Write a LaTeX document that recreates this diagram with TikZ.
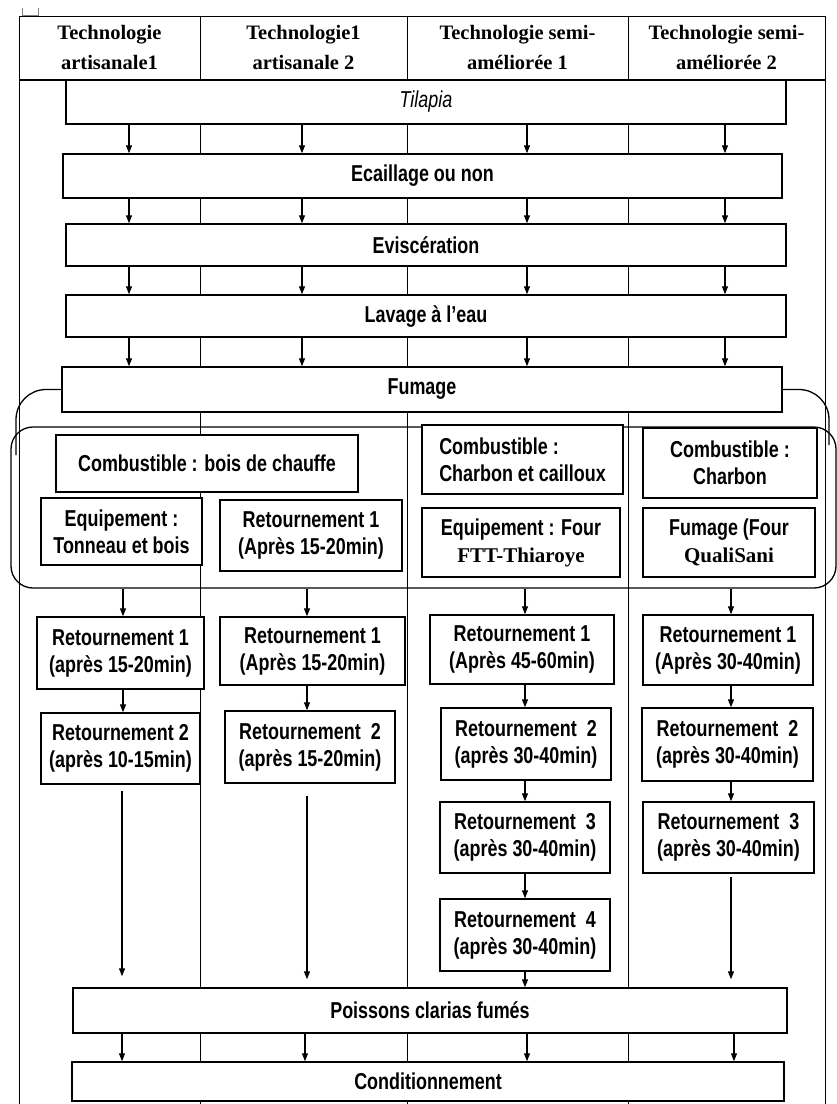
\documentclass[tikz,border=0pt]{standalone}
\usepackage{fontspec}
\setmainfont[FakeStretch=0.78]{Liberation Sans}
\newfontfamily\headfont{Liberation Serif}
\usepackage{tikz}
\usetikzlibrary{positioning,arrows.meta,calc}

\begin{document}
\begin{tikzpicture}[x=1pt,y=-1pt,
    box/.style={draw, line width=1.5pt, fill=white, inner sep=2pt, align=center,
        font=\fontsize{23}{27}\selectfont\bfseries},
    head/.style={align=center, font=\headfont\fontsize{20.5}{30}\selectfont\bfseries},
    flow/.style={line width=1.1pt, -{Triangle[length=8pt,width=6pt]}},
    rule/.style={line width=1pt},
    panel/.style={draw, line width=1.3pt, rounded corners=22pt, inner sep=0pt}]
\useasboundingbox (0,0) rectangle (837,1104);

% table frame and column lines
\draw[rule] (19,1104) -- (19,16) -- (825,16) -- (825,1104);
\draw[rule] (200,16) -- (200,1104);
\draw[rule] (407,16) -- (407,1104);
\draw[rule] (628,16) -- (628,1104);
\draw[line width=2.5pt] (19,80) -- (825,80);
\draw[gray, line width=0.6pt] (22,8) |- (38,15) -- (38,8);

% column heads
\node[head] (h1) at (109.5,47) {Technologie\\artisanale1};
\node[head] (h2) at (303.5,47) {Technologie1\\artisanale 2};
\node[head] (h3) at (517.5,47) {Technologie semi-\\améliorée 1};
\node[head] (h4) at (726.5,47) {Technologie semi-\\améliorée 2};

% common steps
\node[box, minimum width=720, minimum height=44, font=\fontsize{23}{27}\selectfont\itshape] (tilapia) at (426,102) {Tilapia};
\node[box, minimum width=719, minimum height=44] (ecaill) at (422.5,176) {Ecaillage ou non};
\node[box, minimum width=720, minimum height=42] (evisc) at (426,245) {Eviscération};
\node[box, minimum width=720, minimum height=42] (lavage) at (426,316) {Lavage à l'eau};
\node[box, minimum width=720, minimum height=45] (fumage) at (422,389.5) {Fumage};

% smoking frame
\draw[line width=1.3pt, rounded corners=30pt] (fumage.west) -| (16,455);
\draw[line width=1.3pt, rounded corners=30pt] (fumage.east) -| (829,445);
\node[panel, minimum width=825, minimum height=161] (panel) at (423.5,507.5) {};

\node[box, minimum width=302, minimum height=57] (comb1) at (207,463.5) {Combustible : bois de chauffe};
\node[box, minimum width=161, minimum height=67] (equip1) at (121.5,531.5) {Equipement :\\Tonneau et bois};
\node[box, minimum width=182, minimum height=71] (ret1in) at (311,535.5) {Retournement 1\\(Après 15-20min)};
\node[box, minimum width=201, minimum height=69, align=left] (comb3) at (522.5,459.5) {Combustible :\\Charbon et cailloux};
\node[box, minimum width=198, minimum height=69] (equip3) at (521,542.5) {Equipement : Four\\{\headfont\fontsize{21}{27}\selectfont\bfseries FTT-Thiaroye}};
\node[box, minimum width=174, minimum height=70] (comb4) at (730,463) {Combustible :\\Charbon};
\node[box, minimum width=172, minimum height=69] (fum4) at (729,542.5) {Fumage (Four\\{\headfont\fontsize{21}{27}\selectfont\bfseries QualiSani}};

% turning steps
\node[box, minimum width=167, minimum height=72] (c1r1) at (120.5,653) {Retournement 1\\(après 15-20min)};
\node[box, minimum width=159, minimum height=71] (c1r2) at (120.5,748.5) {Retournement 2\\(après 10-15min)};
\node[box, minimum width=185, minimum height=68] (c2r1) at (312.5,651) {Retournement 1\\(Après 15-20min)};
\node[box, minimum width=170, minimum height=72] (c2r2) at (310,747) {Retournement~~2\\(après 15-20min)};
\node[box, minimum width=184, minimum height=69] (c3r1) at (522,649.5) {Retournement 1\\(Après 45-60min)};
\node[box, minimum width=170, minimum height=72] (c3r2) at (526,744) {Retournement~~2\\(après 30-40min)};
\node[box, minimum width=170, minimum height=71] (c3r3) at (525,837.5) {Retournement~~3\\(après 30-40min)};
\node[box, minimum width=170, minimum height=72] (c3r4) at (525,935) {Retournement~~4\\(après 30-40min)};
\node[box, minimum width=170, minimum height=70] (c4r1) at (728,650) {Retournement 1\\(Après 30-40min)};
\node[box, minimum width=171, minimum height=73] (c4r2) at (727.5,744.5) {Retournement~~2\\(après 30-40min)};
\node[box, minimum width=171, minimum height=71] (c4r3) at (728.5,837.5) {Retournement~~3\\(après 30-40min)};

% end steps
\node[box, minimum width=714, minimum height=45] (poiss) at (430,1010.5) {Poissons clarias fumés};
\node[box, minimum width=712, minimum height=39] (cond) at (428,1081.5) {Conditionnement};

% arrow axes
\coordinate (k1) at (129,0);
\coordinate (k2) at (302,0);
\coordinate (k3) at (527,0);
\coordinate (k4) at (725,0);
\coordinate (m1) at (123,0);
\coordinate (m2) at (307,0);
\coordinate (m3) at (525,0);
\coordinate (m4) at (731,0);
\coordinate (p1) at (122,0);
\coordinate (p2) at (305,0);
\coordinate (p3) at (527,0);
\coordinate (p4) at (734,0);

\foreach \a/\b in {tilapia/ecaill, ecaill/evisc, evisc/lavage, lavage/fumage}
  \foreach \k in {k1,k2,k3,k4}
    \draw[flow] (\a.south -| \k) -- (\b.north -| \k);

\draw[flow] (panel.south -| m1) -- (c1r1.north -| m1);
\draw[flow] (panel.south -| m2) -- (c2r1.north -| m2);
\draw[flow] (panel.south -| m3) -- (c3r1.north -| m3);
\draw[flow] (panel.south -| m4) -- (c4r1.north -| m4);

\draw[flow] (c1r1.south -| m1) -- (c1r2.north -| m1);
\draw[flow] (c2r1.south -| m2) -- (c2r2.north -| m2);
\draw[flow] (c3r1.south -| m3) -- (c3r2.north -| m3);
\draw[flow] (c3r2.south -| m3) -- (c3r3.north -| m3);
\draw[flow] (c3r3.south -| m3) -- (c3r4.north -| m3);
\draw[flow] (c3r4.south -| m3) -- (poiss.north -| m3);
\draw[flow] (c4r1.south -| m4) -- (c4r2.north -| m4);
\draw[flow] (c4r2.south -| m4) -- (c4r3.north -| m4);

\draw[flow, shorten <=6pt, shorten >=11pt] (c1r2.south -| p1) -- (poiss.north -| p1);
\draw[flow, shorten <=12pt, shorten >=8pt] (c2r2.south -| m2) -- (poiss.north -| m2);
\draw[flow, shorten <=3pt, shorten >=8pt] (c4r3.south -| m4) -- (poiss.north -| m4);

\foreach \k in {p1,p2,p3,p4}
  \draw[flow] (poiss.south -| \k) -- (cond.north -| \k);
\end{tikzpicture}
\end{document}
